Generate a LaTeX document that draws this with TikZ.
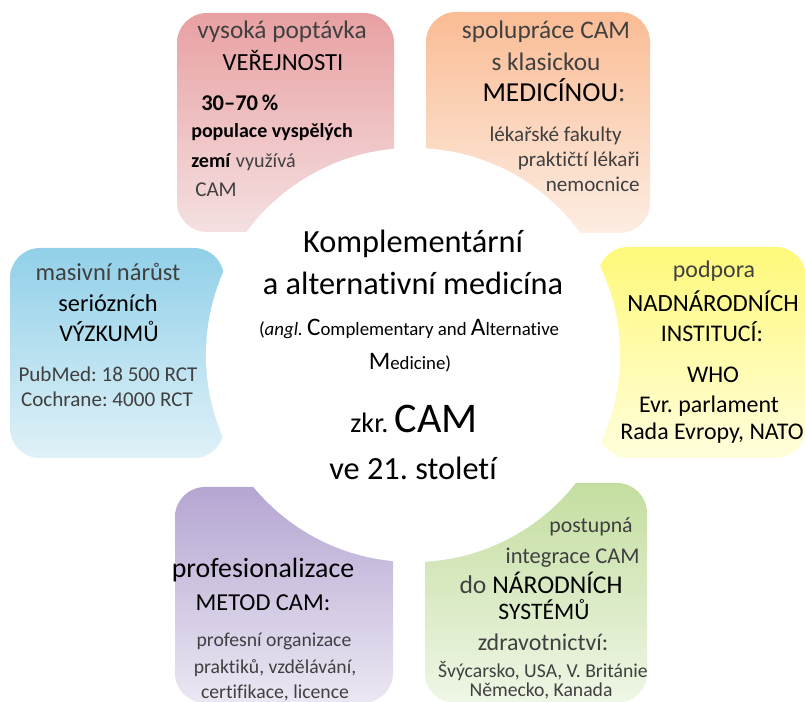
\documentclass[tikz,border=0pt]{standalone}
\usepackage{fontspec}
\setmainfont{Carlito}[Ligatures=NoCommon]
\usetikzlibrary{shapes.geometric}

\definecolor{tgray}{HTML}{404040}
\definecolor{redtop}{HTML}{E8A0A2}
\definecolor{redbot}{HTML}{F5E0E1}
\definecolor{orgtop}{HTML}{FABC94}
\definecolor{orgbot}{HTML}{FDEDE3}
\definecolor{blutop}{HTML}{91D0E8}
\definecolor{blubot}{HTML}{E0F1F8}
\definecolor{yeltop}{HTML}{FFF97A}
\definecolor{yelbot}{HTML}{FFFEDC}
\definecolor{purtop}{HTML}{B5A6D2}
\definecolor{purbot}{HTML}{ECE7F3}
\definecolor{grntop}{HTML}{C4DEA0}
\definecolor{grnbot}{HTML}{EFF6E6}

\newcommand{\fs}[1]{\fontsize{#1}{#1}\selectfont}
\frenchspacing

\begin{document}
\begin{tikzpicture}[
  x=0.025cm, y=-0.025cm,
  petal/.style={rounded corners=0.75cm},
  txt/.style={font=\fs{18}, text=tgray, anchor=base, inner sep=0pt},
  key/.style={txt, text=black, font=\fs{17.5}},
  note/.style={txt, font=\fs{14}},
  hubtxt/.style={txt, text=black, font=\fs{23}},
]
\useasboundingbox (0,0) rectangle (805,702);

% petals
\shade[petal, top color=redtop, bottom color=redbot] (177,13) rectangle (394,232);
\shade[petal, top color=orgtop, bottom color=orgbot] (426,12) rectangle (650,233);
\shade[petal, top color=blutop, bottom color=blubot] (10,248) rectangle (224,458);
\shade[petal, top color=yeltop, bottom color=yelbot] (598,247) rectangle (806,458);
\shade[petal, top color=purtop, bottom color=purbot] (175,487) rectangle (393,703);
\shade[petal, top color=grntop, bottom color=grnbot] (425,483) rectangle (647,703);

\node[circle, fill=white, minimum size=10.35cm, inner sep=0pt] (hub) at (413,355) {};

% public demand
\node[txt] (pub1) at (282,39) {vysoká poptávka};
\node[key] (pub2) at (283,71) {VEŘEJNOSTI};
\node[key, anchor=base west, font=\fs{16}\bfseries] (pub3) at (201,111) {30–70\,\%};
\node[key, anchor=base west, font=\fs{14.2}\bfseries] (pub4) at (191,138) {populace vyspělých};
\node[key, anchor=base west, font=\fs{14.3}] (pub5) at (191,168) {\textbf{zemí} \textcolor{tgray}{využívá}};
\node[txt, anchor=base west, font=\fs{15}] (pub6) at (195,197) {CAM};

% cooperation with medicine
\node[txt] (med1) at (546,39) {spolupráce CAM};
\node[txt] (med2) at (546,71) {s klasickou};
\node[key, font=\fs{19.5}] (med3) at (554,102) {MEDICÍNOU\textcolor{tgray}{:}};
\node[txt, anchor=base east, font=\fs{15}] (med4) at (622,142) {lékařské fakulty};
\node[txt, anchor=base east, font=\fs{15}] (med5) at (640,167) {praktičtí lékaři};
\node[txt, anchor=base east, font=\fs{15}] (med6) at (640,192) {nemocnice};

% research
\node[txt, font=\fs{17.4}] (res1) at (108,281) {masivní nárůst};
\node[key, font=\fs{17.3}] (res2) at (108,312) {seriózních};
\node[key, font=\fs{17}] (res3) at (109,342) {VÝZKUMŮ};
\node[note, font=\fs{15}] (res4) at (108,382) {PubMed: 18 500 RCT};
\node[note, font=\fs{15}] (res5) at (107,407) {Cochrane: 4000 RCT};

% institutions
\node[txt, font=\fs{17}] (ins1) at (714,278) {podpora};
\node[key, font=\fs{17.6}] (ins2) at (713,312) {NADNÁRODNÍCH};
\node[key, font=\fs{17}] (ins3) at (712,342) {INSTITUCÍ:};
\node[key, font=\fs{17}] (ins4) at (713,383) {WHO};
\node[key, font=\fs{17}] (ins5) at (709,413) {Evr. parlament};
\node[key, font=\fs{17}] (ins6) at (712,440) {Rada Evropy, NATO};

% professionalisation
\node[key, font=\fs{19.8}] (pro1) at (263,577) {profesionalizace};
\node[key, font=\fs{17.3}] (pro2) at (263,610) {METOD CAM:};
\node[note] (pro3) at (274,646) {profesní organizace};
\node[note] (pro4) at (275,673) {praktiků, vzdělávání,};
\node[note] (pro5) at (275,698) {certifikace, licence};

% integration
\node[txt, anchor=base east, font=\fs{15.5}] (int1) at (633,533) {postupná};
\node[txt, anchor=base east, font=\fs{16}] (int2) at (640,563) {integrace CAM};
\node[txt, font=\fs{18.2}] (int3) at (541,593) {do \textcolor{black}{NÁRODNÍCH}};
\node[key, font=\fs{16.8}] (int4) at (544,619) {SYSTÉMŮ};
\node[txt, font=\fs{17}] (int5) at (543,650) {zdravotnictví:};
\node[note] (int6) at (543,677) {Švýcarsko, USA, V. Británie};
\node[note] (int7) at (541,696) {Německo, Kanada};

% centre
\node[hubtxt] (cam1) at (413,253) {Komplementární};
\node[hubtxt] (cam2) at (413,295) {a alternativní medicína};
\node[hubtxt, font=\fs{13.4}] (cam3) at (409,336)
  {(\textit{angl.} {\fs{17.9}C}omplementary and {\fs{17.9}A}lternative};
\node[hubtxt, font=\fs{13.4}] (cam4) at (410,370) {{\fs{17.9}M}edicine)};
\node[hubtxt, font=\fs{20}] (cam5) at (414,433) {zkr. {\fs{30}CAM}};
\node[hubtxt] (cam6) at (413,480) {ve 21. století};

\end{tikzpicture}
\end{document}
